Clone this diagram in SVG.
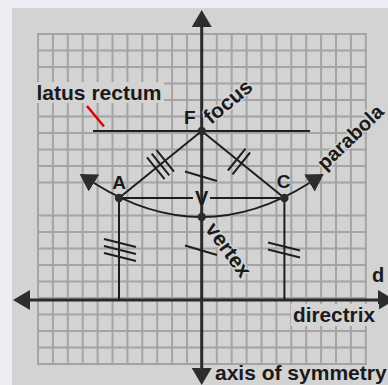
<svg xmlns="http://www.w3.org/2000/svg" width="388" height="385" viewBox="0 0 388 385">
<defs>
<marker id="arr" viewBox="0 0 17 20" refX="0" refY="10" markerWidth="17" markerHeight="20" markerUnits="userSpaceOnUse" orient="auto-start-reverse"><path d="M0,0 L17,10 L0,20 Z" fill="#2d2d2d"/></marker>
<style>
.grid{stroke:#a4a4a4;stroke-width:2;fill:none}
.ln{stroke:#1e1e1e;stroke-width:2;fill:none}
.ax{stroke:#2a2a2a;stroke-width:3;fill:none}
.tk{stroke:#1e1e1e;stroke-width:2;fill:none}
.dot{fill:#2b2b2b}
text{font-family:"Liberation Sans",Arial,sans-serif;font-weight:bold;fill:#1a1a1a}
.lbl{font-size:21px}
.pt{font-size:19px}
.halo{stroke:#d3d3d3;stroke-width:3;paint-order:stroke;stroke-linejoin:round}
.bg{fill:#d3d3d3}
</style>
</defs>
<rect width="388" height="385" fill="#ededf3"/>
<rect x="12" y="8" width="376" height="377" fill="#d3d3d3"/>
<g id="grid">
<path class="grid" d="M38 33V365M52.9 33V365M67.8 33V365M82.7 33V365M97.6 33V365M112.5 33V365M127.4 33V365M142.3 33V365M157.2 33V365M172.1 33V365M187 33V365M201.9 33V365M216.8 33V365M231.7 33V365M246.6 33V365M261.5 33V365M276.4 33V365M291.3 33V365M306.2 33V365M321.1 33V365M336 33V365M350.9 33V365M365.8 33V365"/>
<path class="grid" d="M37 34H367M37 50.5H367M37 67H367M37 83.5H367M37 100H367M37 116.5H367M37 133H367M37 149.5H367M37 166H367M37 182.5H367M37 215.5H367M37 232H367M37 248.5H367M37 265H367M37 281.5H367M37 298H367M37 314.5H367M37 331H367M37 347.5H367M37 364H367"/>
</g>
<g id="connectors">
<line class="ax" x1="201.7" y1="27" x2="201.7" y2="368" marker-start="url(#arr)" marker-end="url(#arr)"/>
<line class="ax" x1="30" y1="300" x2="378" y2="300" stroke-width="3.5" marker-start="url(#arr)" marker-end="url(#arr)"/>
<path class="ln" d="M94 183Q201.7 251 309.4 183" marker-start="url(#arr)" marker-end="url(#arr)"/>
<line class="ln" x1="93" y1="131" x2="310" y2="131" stroke-width="2.5"/>
<line class="ln" x1="201.7" y1="131" x2="119" y2="198"/>
<line class="ln" x1="201.7" y1="131" x2="284.4" y2="198"/>
<line class="ln" x1="119" y1="198" x2="193" y2="198"/>
<line class="ln" x1="210" y1="198" x2="284.4" y2="198"/>
<line class="ln" x1="119" y1="198" x2="119" y2="300"/>
<line class="ln" x1="284.4" y1="198" x2="284.4" y2="300"/>
<line x1="87" y1="106" x2="104" y2="126.5" stroke="#e00000" stroke-width="2.5"/>
<g id="ticks">
<path class="tk" d="M151.7 153.6L169.3 175.4M156.4 149.8L174 171.6M147 157.4L164.6 179.2"/>
<path class="tk" d="M245.5 148.7L227.9 170.5M250.1 152.5L232.5 174.3"/>
<path class="tk" d="M185 171.5L217 181M185 245.5L217 255"/>
<path class="tk" d="M104 239L136 247M104 246L136 254M104 253L136 261"/>
<path class="tk" d="M268 242.5L300 250.5M268 249.5L300 257.5"/>
</g>
</g>
<g id="node-F">
<circle class="dot" cx="201.7" cy="131" r="4.2"/>
<text class="pt" x="184" y="123.5">F</text>
</g>
<g id="node-A">
<circle class="dot" cx="119" cy="198" r="4.2"/>
<text class="pt" x="119" y="188.5" text-anchor="middle">A</text>
</g>
<g id="node-C">
<circle class="dot" cx="284.4" cy="198" r="4.2"/>
<text class="pt" x="283.5" y="187.5" text-anchor="middle">C</text>
</g>
<g id="node-V">
<circle class="dot" cx="201.7" cy="217" r="4.2"/>
<text x="201.7" y="205" font-size="20" text-anchor="middle">V</text>
</g>
<g id="label-latus-rectum">
<rect class="bg" x="35" y="82" width="129" height="21"/>
<text class="lbl" x="36.5" y="99.5" textLength="125" lengthAdjust="spacingAndGlyphs">latus rectum</text>
</g>
<g id="label-focus">
<text class="lbl halo" transform="translate(211 125) rotate(-40)">focus</text>
</g>
<g id="label-parabola">
<text class="halo" font-size="20" transform="translate(325 171) rotate(-44)">parabola</text>
</g>
<g id="label-vertex">
<text class="lbl halo" transform="translate(204.6 229) rotate(54)">vertex</text>
</g>
<g id="label-directrix">
<rect class="bg" x="291" y="304" width="88" height="22"/>
<text class="lbl" x="293" y="321.5" textLength="82" lengthAdjust="spacingAndGlyphs">directrix</text>
</g>
<g id="label-d">
<text x="372" y="281.5" font-size="20">d</text>
</g>
<g id="label-axis">
<text class="lbl" x="215" y="380">axis of symmetry</text>
</g>
</svg>
